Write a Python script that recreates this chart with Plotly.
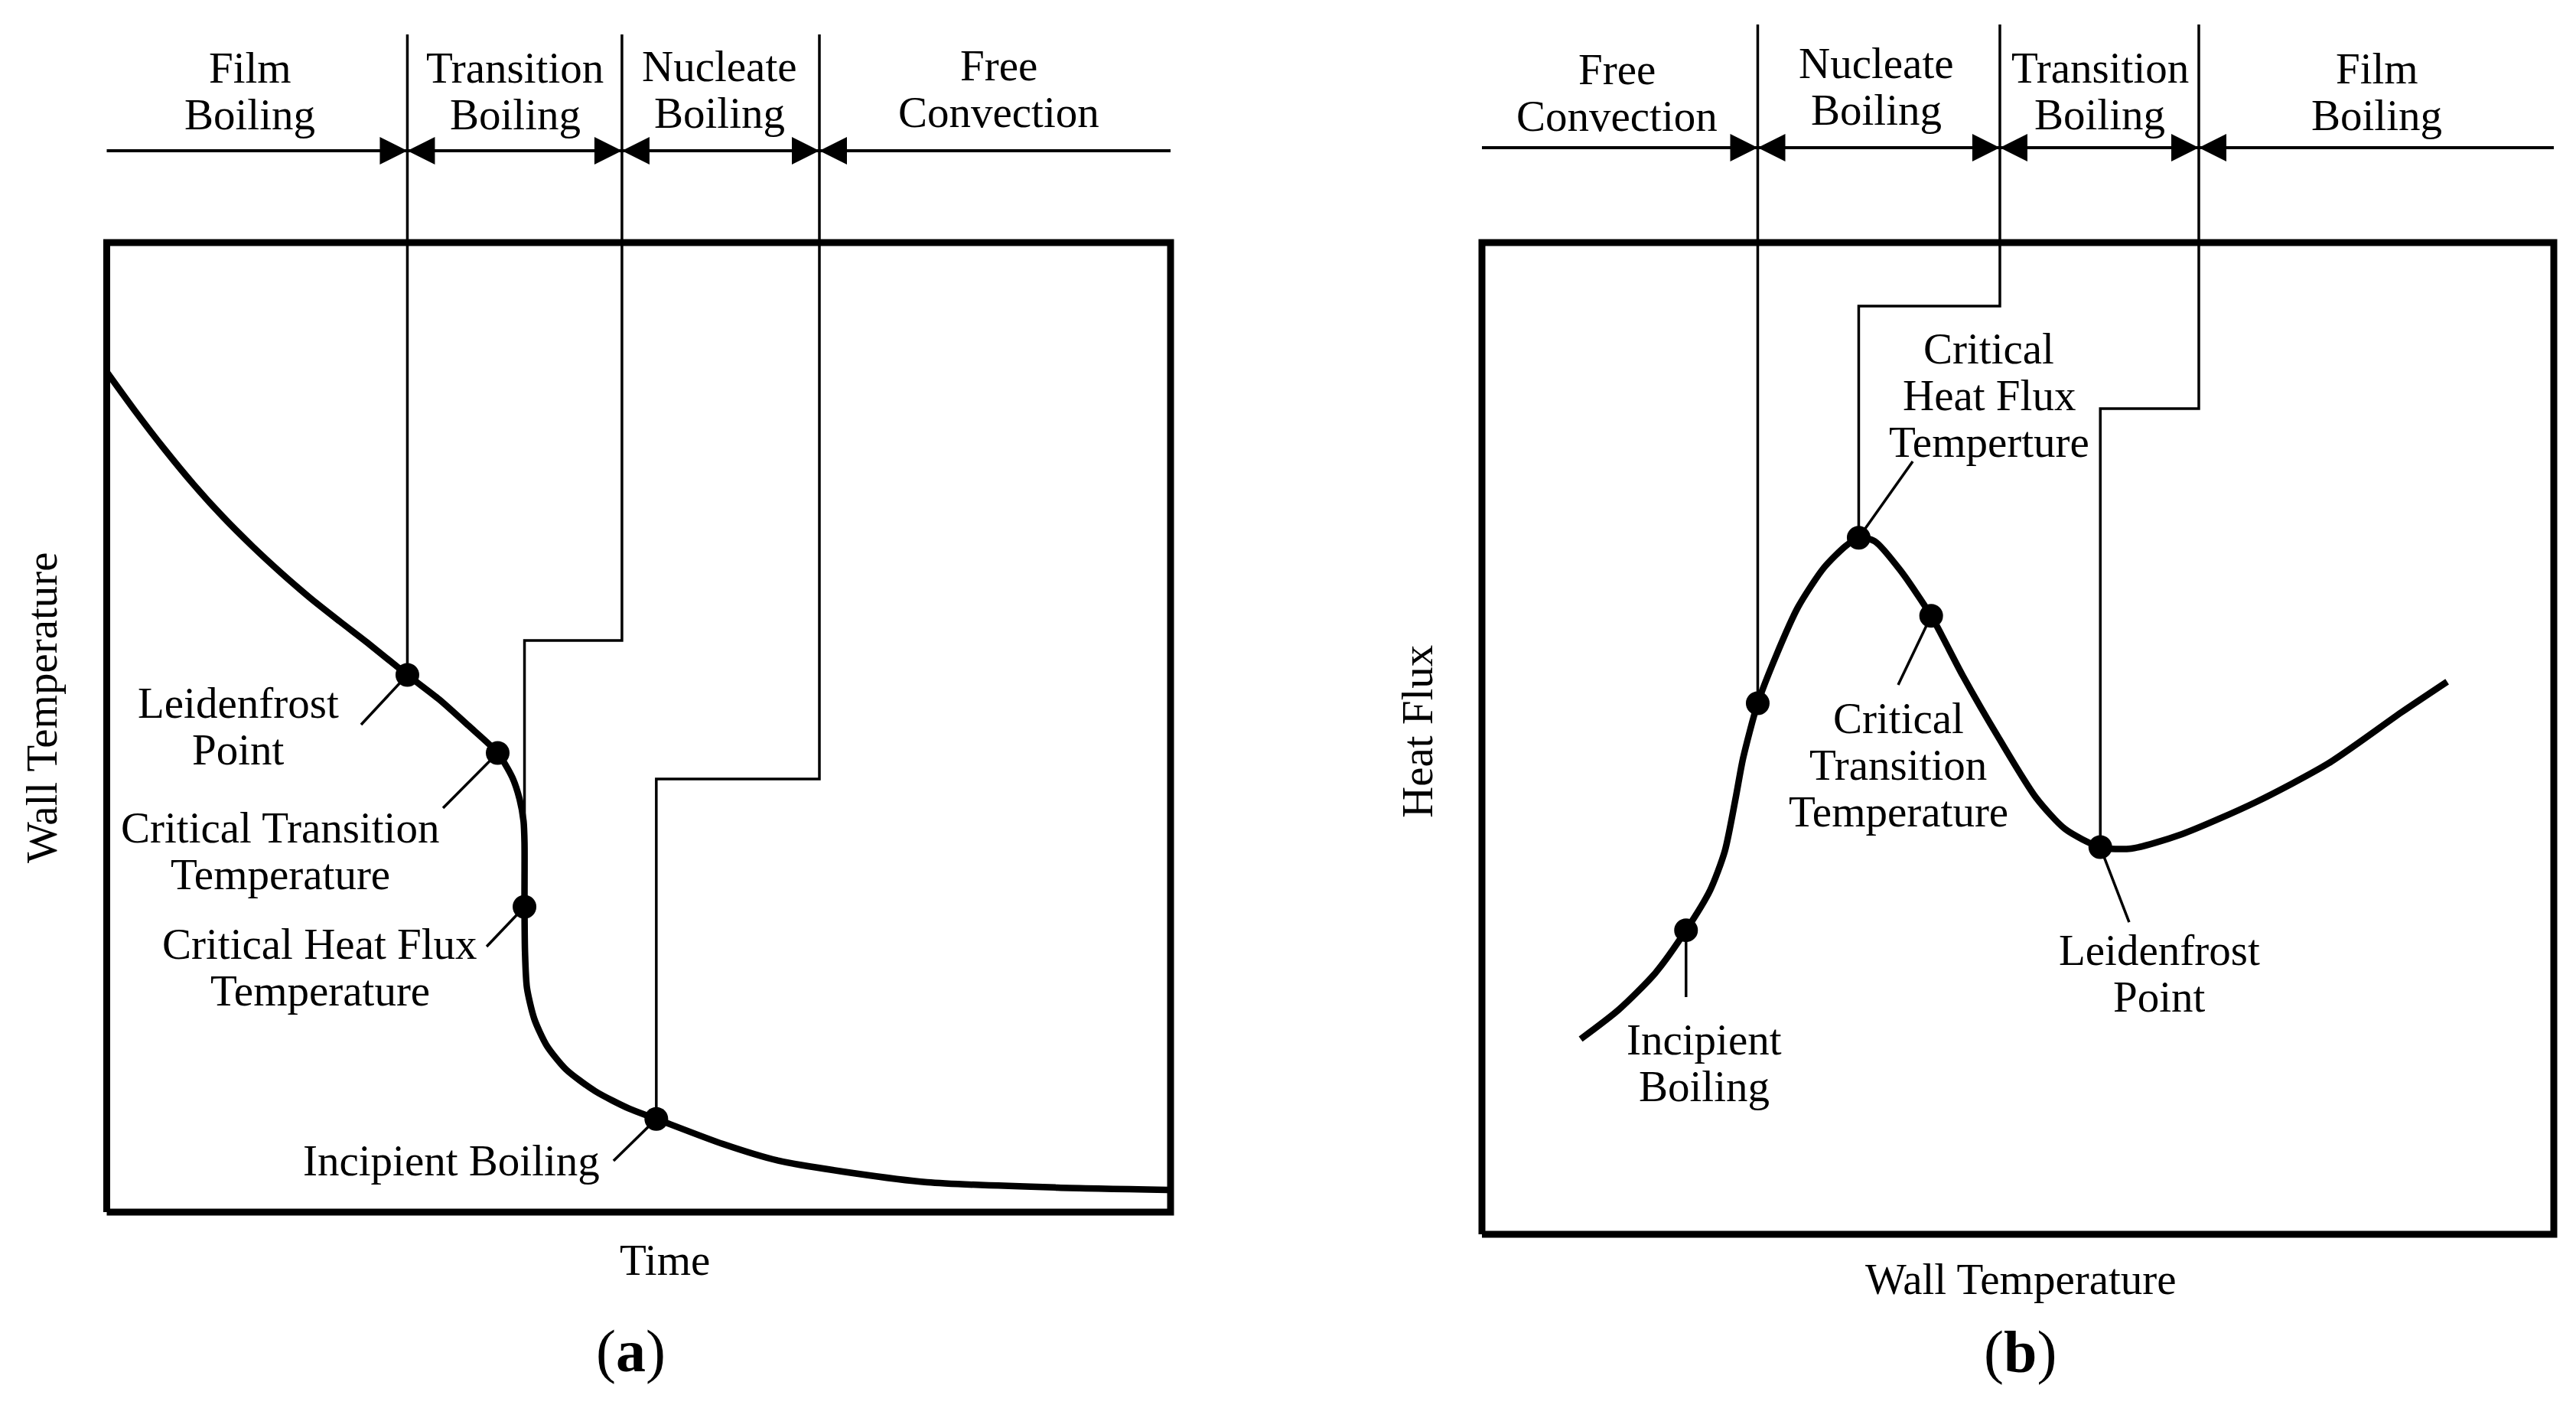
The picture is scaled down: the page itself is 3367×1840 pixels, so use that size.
import plotly.graph_objects as go

# ======================= DATA (normalised frame units 0-100) =======================
# Panel (a): wall temperature vs. time (cooling curve)
time_a = [0, 2.66, 5.43, 8.16, 10.90, 13.70, 16.43, 19.17, 21.90, 24.70, 28.26,
          31.25, 33.98, 36.75, 38.12, 38.81, 39.18, 39.27, 39.27, 39.32, 39.50,
          40.19, 41.34, 43.17, 45.92, 49.13, 51.66, 57.93, 63.18, 70.15, 77.13,
          89.36, 100]
wall_temp_a = [86.66, 82.64, 78.69, 75.06, 71.74, 68.67, 65.90, 63.30, 60.93, 58.56, 55.41,
               52.88, 50.20, 47.36, 44.85, 42.59, 40.33, 38.06, 31.49, 26.76, 23.13,
               19.93, 17.21, 14.72, 12.47, 10.66, 9.61, 7.02, 5.29, 4.03, 3.08,
               2.53, 2.29]
points_a = ["Leidenfrost\nPoint", "Critical Transition\nTemperature",
            "Critical Heat Flux\nTemperature", "Incipient Boiling"]
point_time_a = [28.26, 36.75, 39.27, 51.66]
point_temp_a = [55.41, 47.36, 31.49, 9.61]
regions_a = ["Film\nBoiling", "Transition\nBoiling", "Nucleate\nBoiling", "Free\nConvection"]
boundaries_a = [28.26, 48.43, 66.99]          # region boundaries (time)
boundary_step_a = [None, 58.96, 44.67]        # level where boundary line jogs to its point
boundary_point_a = [0, 2, 3]                  # index of point each boundary leads to

# Panel (b): heat flux vs. wall temperature (boiling curve)
wall_temp_b = [9.21, 12.76, 16.17, 19.04, 21.29, 22.66, 23.68, 24.36, 25.73, 27.44,
               29.49, 31.88, 33.93, 35.15, 36.65, 39.04, 41.91, 44.85, 48.27, 51.68,
               54.41, 57.69, 60.56, 65.33, 72.16, 78.99, 85.82, 90.05]
heat_flux_b = [19.69, 22.65, 26.34, 30.66, 34.70, 38.64, 44.05, 47.99, 53.55, 58.33,
               63.24, 67.18, 69.40, 70.23, 69.88, 66.94, 62.36, 56.35, 49.95, 44.05,
               40.86, 39.04, 38.89, 40.36, 43.56, 47.50, 52.66, 55.72]
points_b = ["Incipient\nBoiling", "", "Critical\nHeat Flux\nTemperture",
            "Critical\nTransition\nTemperature", "Leidenfrost\nPoint"]
point_temp_b = [19.04, 25.73, 35.15, 41.91, 57.69]
point_flux_b = [30.66, 53.55, 70.23, 62.36, 39.04]
regions_b = ["Free\nConvection", "Nucleate\nBoiling", "Transition\nBoiling", "Film\nBoiling"]
boundaries_b = [25.73, 48.32, 66.88]
boundary_step_b = [None, 93.60, 83.26]
boundary_point_b = [1, 2, 4]

axis_titles = {"a": ("Time", "Wall Temperature", "(<b>a</b>)"),
               "b": ("Wall Temperature", "Heat Flux", "(<b>b</b>)")}

# ======================= LAYOUT (pixels / styles) =======================
W, H = 3367, 1840
FONT = "Liberation Serif, Times New Roman, serif"
FS = 57
LINE_PX = 61
FRAMES = {
    "a": dict(left=139.5, right=1530, top=317, bottom=1584, dom=(0.0, 0.525), xr="x", yr="y",
              line_top=121.47, arrow_y=109.47),
    "b": dict(left=1937, right=3338, top=317, bottom=1613, dom=(0.525, 1.0), xr="x2", yr="y2",
              line_top=121.99, arrow_y=109.57),
}
# first-line centres of the text blocks
region_pos = {"a": ([13.45, 38.37, 57.64, 83.89], [118.07, 118.07, 118.23, 118.31]),
              "b": ([12.63, 36.76, 57.67, 83.51], [117.44, 118.06, 117.67, 117.59])}
label_pos = {"a": [(12.40, 52.53), (16.29, 39.70), (20.06, 27.70), (32.40, 5.29)],
             "b": [(20.77, 19.60), None, (47.32, 89.35), (38.83, 52.08), (63.17, 28.63)]}
leader_end = {"a": [(23.91, 50.28), (31.61, 41.67), (35.71, 27.39), (47.64, 5.29)],
              "b": [(19.04, 23.92), None, (40.19, 77.93), (38.83, 55.40), (60.38, 31.48)]}
title_pos = {"a": [(52.47, -4.97), (-6.15, 52.09), (49.23, -14.36)],
             "b": [(50.25, -4.55), (-6.07, 50.69), (50.18, -11.81)]}

for fr in FRAMES.values():
    fr["ppx"] = (fr["right"] - fr["left"]) / 100.0
    fr["ppy"] = (fr["bottom"] - fr["top"]) / 100.0
    fr["xrange"] = [(fr["dom"][0] * W - fr["left"]) / fr["ppx"],
                    (fr["dom"][1] * W - fr["left"]) / fr["ppx"]]
    fr["yrange"] = [(fr["bottom"] - H) / fr["ppy"], fr["bottom"] / fr["ppy"]]

fig = go.Figure()


def text(panel, label, x, y, size=FS, angle=0):
    fr = FRAMES[panel]
    for i, t in enumerate(label.split("\n")):
        fig.add_annotation(x=x, y=y - i * LINE_PX / fr["ppy"], xref=fr["xr"], yref=fr["yr"],
                           text=t, showarrow=False, textangle=angle,
                           font=dict(family=FONT, size=size, color="black"),
                           xanchor="center", yanchor="middle")


def panel(p, cx, cy, pnames, px, py, regions, bnds, steps, bpts):
    fr = FRAMES[p]
    xr, yr = fr["xr"], fr["yr"]
    # boundary lines
    bx, by = [], []
    for b, s, k in zip(bnds, steps, bpts):
        if s is None:
            bx += [b, b, None]
            by += [fr["line_top"], py[k], None]
        else:
            bx += [b, b, px[k], px[k], None]
            by += [fr["line_top"], s, s, py[k], None]
    fig.add_trace(go.Scatter(x=bx, y=by, mode="lines", xaxis=xr, yaxis=yr,
                             line=dict(color="black", width=3.5), hoverinfo="skip"))
    # header arrow line
    fig.add_trace(go.Scatter(x=[0, 100], y=[fr["arrow_y"]] * 2, mode="lines", xaxis=xr, yaxis=yr,
                             line=dict(color="black", width=4), hoverinfo="skip"))
    for b in bnds:
        for d in (-4, 4):
            fig.add_annotation(x=b, y=fr["arrow_y"], ax=b + d, ay=fr["arrow_y"],
                               xref=xr, yref=yr, axref=xr, ayref=yr, text="",
                               showarrow=True, arrowhead=2, arrowsize=1.8, arrowwidth=4,
                               arrowcolor="black", standoff=0)
    # leader lines
    lx, ly = [], []
    for k, end in enumerate(leader_end[p]):
        if end is None:
            continue
        lx += [px[k], end[0], None]
        ly += [py[k], end[1], None]
    fig.add_trace(go.Scatter(x=lx, y=ly, mode="lines", xaxis=xr, yaxis=yr,
                             line=dict(color="black", width=3.5), hoverinfo="skip"))
    # curve
    fig.add_trace(go.Scatter(x=cx, y=cy, mode="lines", xaxis=xr, yaxis=yr,
                             line=dict(color="black", width=8.5, shape="spline", smoothing=0.7),
                             hoverinfo="skip"))
    # points
    fig.add_trace(go.Scatter(x=px, y=py, mode="markers", xaxis=xr, yaxis=yr,
                             marker=dict(color="black", size=31), hoverinfo="skip"))
    # frame
    fig.add_trace(go.Scatter(x=[0, 100, 100, 0, 0], y=[0, 0, 100, 100, 0], mode="lines",
                             xaxis=xr, yaxis=yr, line=dict(color="black", width=9),
                             hoverinfo="skip"))
    # texts
    for lab, x, y in zip(regions, *region_pos[p]):
        text(p, lab, x, y)
    for lab, pos in zip(pnames, label_pos[p]):
        if pos is not None and lab:
            text(p, lab, pos[0], pos[1])
    (tx, ty), (vx, vy), (lx_, ly_) = title_pos[p]
    xt, yt, pl = axis_titles[p]
    text(p, xt, tx, ty)
    text(p, yt, vx, vy, angle=-90)
    text(p, pl, lx_, ly_, size=78)


panel("a", time_a, wall_temp_a, points_a, point_time_a, point_temp_a,
      regions_a, boundaries_a, boundary_step_a, boundary_point_a)
panel("b", wall_temp_b, heat_flux_b, points_b, point_temp_b, point_flux_b,
      regions_b, boundaries_b, boundary_step_b, boundary_point_b)

ax_common = dict(visible=False, showgrid=False, zeroline=False, fixedrange=True)
fig.update_layout(
    width=W, height=H, margin=dict(l=0, r=0, t=0, b=0),
    paper_bgcolor="white", plot_bgcolor="white", showlegend=False,
    xaxis=dict(domain=list(FRAMES["a"]["dom"]), range=FRAMES["a"]["xrange"], **ax_common),
    yaxis=dict(domain=[0, 1], range=FRAMES["a"]["yrange"], **ax_common),
    xaxis2=dict(domain=list(FRAMES["b"]["dom"]), range=FRAMES["b"]["xrange"], anchor="y2", **ax_common),
    yaxis2=dict(domain=[0, 1], range=FRAMES["b"]["yrange"], anchor="x2", **ax_common),
)

fig.write_html("out.html", config={"displayModeBar": False},
               post_script="document.body.style.margin='0';")
